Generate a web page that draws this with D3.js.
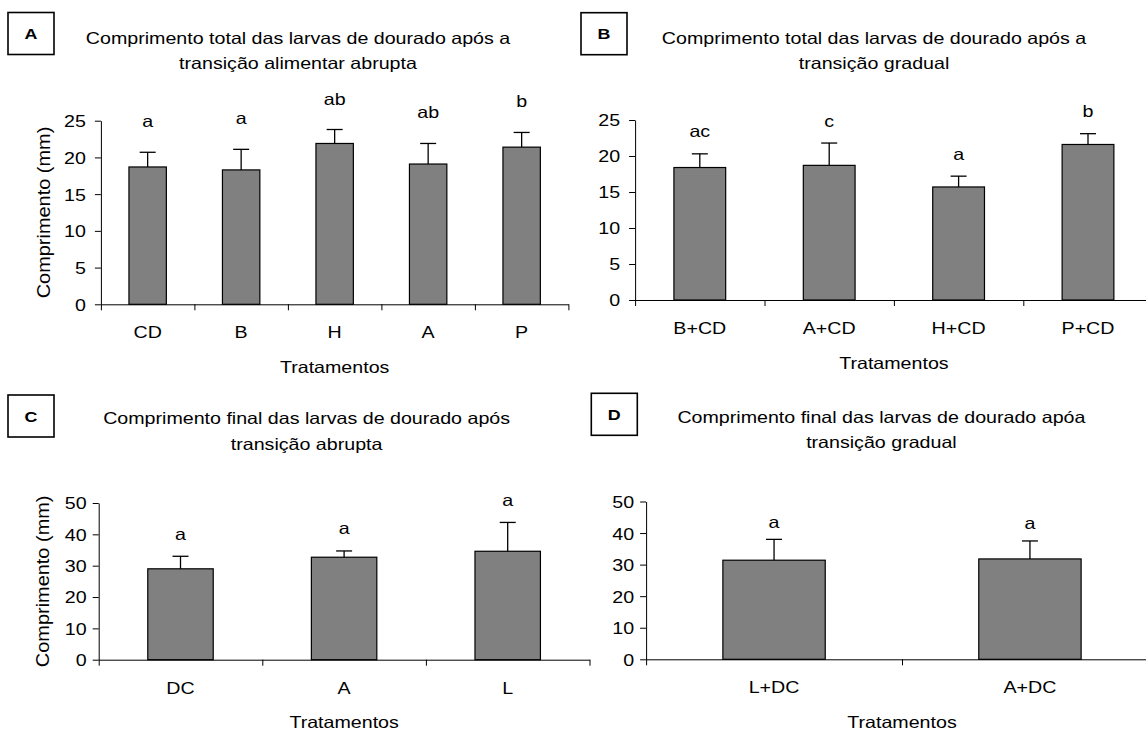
<!DOCTYPE html>
<html><head><meta charset="utf-8">
<script src="https://cdn.jsdelivr.net/npm/d3@7"></script>
<style>
body{margin:0;background:#fff}
svg{display:block}
text{font-family:"Liberation Sans",Arial,sans-serif;fill:#000}
</style>
</head><body>
<svg id="c" width="1146" height="734"></svg>
<script>
// ---- data ----
const catsA = ["CD", "B", "H", "A", "P"];
const meansA = [18.7, 18.3, 21.9, 19.1, 21.4];
const errA = [2.0, 2.8, 1.9, 2.8, 2.0];
const lettersA = ["a", "a", "ab", "ab", "b"];

const catsB = ["B+CD", "A+CD", "H+CD", "P+CD"];
const meansB = [18.4, 18.7, 15.7, 21.6];
const errB = [1.9, 3.1, 1.5, 1.5];
const lettersB = ["ac", "c", "a", "b"];

const catsC = ["DC", "A", "L"];
const meansC = [29.0, 32.7, 34.6];
const errC = [4.0, 2.0, 9.2];
const lettersC = ["a", "a", "a"];

const catsD = ["L+DC", "A+DC"];
const meansD = [31.4, 31.8];
const errD = [6.6, 5.7];
const lettersD = ["a", "a"];

const ticksAB = [0, 5, 10, 15, 20, 25];
const ticksCD = [0, 10, 20, 30, 40, 50];

const titlesA = ["Comprimento total das larvas de dourado após a", "transição alimentar abrupta"];
const titlesB = ["Comprimento total das larvas de dourado após a", "transição gradual"];
const titlesC = ["Comprimento final das larvas de dourado após", "transição abrupta"];
const titlesD = ["Comprimento final das larvas de dourado apóa", "transição gradual"];
const yLabel = "Comprimento (mm)";
const xLabel = "Tratamentos";

// ---- drawing ----
const SX = 1.19, FS = 16.5;
const svg = d3.select("#c");

function label(g, x, y, str, o = {}) {
  const size = o.size || FS, anchor = o.anchor || "middle", weight = o.weight || "normal", rot = o.rotate || 0;
  const sx = o.sx || SX;
  return g.append("text")
    .attr("transform", `translate(${x},${y}) rotate(${rot}) scale(${sx},1)`)
    .attr("text-anchor", anchor)
    .attr("font-size", size)
    .attr("font-weight", weight)
    .text(str);
}

function panel(cfg) {
  const g = svg.append("g");
  const n = cfg.cats.length;
  const x = d3.scaleBand().domain(cfg.cats).range([cfg.x0, cfg.x1]).paddingInner(0.6).paddingOuter(0.3);
  const xb = d3.scaleLinear().domain([0, n]).range([cfg.x0, cfg.x1]);
  const y = d3.scaleLinear().domain([0, cfg.ticks[cfg.ticks.length - 1]]).range([cfg.yBot, cfg.yTop]);

  // bars
  g.selectAll("rect.bar").data(cfg.cats).join("rect")
    .attr("class", "bar")
    .attr("x", d => x(d))
    .attr("width", x.bandwidth())
    .attr("y", (d, i) => y(cfg.means[i]))
    .attr("height", (d, i) => y(0) - y(cfg.means[i]))
    .attr("fill", "#808080")
    .attr("stroke", "#000")
    .attr("stroke-width", 1.2);

  // error bars (upper)
  cfg.cats.forEach((c, i) => {
    const cx = x(c) + x.bandwidth() / 2;
    const top = y(cfg.means[i] + cfg.errs[i]);
    g.append("line").attr("x1", cx).attr("x2", cx).attr("y1", y(cfg.means[i])).attr("y2", top)
      .attr("stroke", "#000").attr("stroke-width", 1.3);
    g.append("line").attr("x1", cx - 8).attr("x2", cx + 8).attr("y1", top).attr("y2", top)
      .attr("stroke", "#000").attr("stroke-width", 1.3);
    label(g, cx, top - cfg.letterGap, cfg.letters[i]);
  });

  // y axis
  const ya = g.append("g").attr("transform", `translate(${cfg.x0},0)`)
    .call(d3.axisLeft(y).tickValues(cfg.ticks).tickSize(6).tickSizeOuter(0));
  ya.select(".domain").attr("stroke", "#000");
  ya.selectAll(".tick line").attr("stroke", "#000");
  ya.selectAll(".tick text")
    .attr("x", null).attr("dy", null)
    .attr("font-size", FS).attr("font-family", null)
    .attr("transform", `translate(${-cfg.tickPad},${0.36 * FS}) scale(${SX},1)`);

  // x axis (category boundaries)
  const xa = g.append("g").attr("transform", `translate(0,${cfg.yBot})`)
    .call(d3.axisBottom(xb).tickValues(d3.range(n + 1)).tickSize(6).tickSizeOuter(0).tickFormat(""));
  xa.select(".domain").attr("stroke", "#000");
  xa.selectAll(".tick line").attr("stroke", "#000");

  // category labels
  cfg.cats.forEach(c => label(g, x(c) + x.bandwidth() / 2, cfg.yBot + 34, c));
  // axis titles
  label(g, (cfg.x0 + cfg.x1) / 2, cfg.yBot + 68.5, xLabel);
  if (cfg.yLabelX) label(g, cfg.yLabelX, (cfg.yTop + cfg.yBot) / 2, yLabel, { rotate: -90, size: 17.5, sx: 1.14 });

  // chart title
  label(g, cfg.titleX, cfg.titleY, cfg.title[0]);
  label(g, cfg.titleX, cfg.titleY + 25.5, cfg.title[1]);

  // panel letter box
  g.append("rect").attr("x", cfg.box[0]).attr("y", cfg.box[1]).attr("width", 46).attr("height", 42)
    .attr("fill", "#fff").attr("stroke", "#000").attr("stroke-width", 1.6);
  label(g, cfg.box[0] + 23, cfg.box[1] + 26.5, cfg.boxLetter, { size: 15, weight: "bold" });
}

panel({ cats: catsA, means: meansA, errs: errA, letters: lettersA, ticks: ticksAB,
  x0: 100.9, x1: 568.4, yTop: 120.7, yBot: 304.3, tickPad: 15, letterGap: 25,
  title: titlesA, titleX: 298, titleY: 43.5, box: [8, 12.5], boxLetter: "A", yLabelX: 50 });
panel({ cats: catsB, means: meansB, errs: errB, letters: lettersB, ticks: ticksAB,
  x0: 635.1, x1: 1152.7, yTop: 120, yBot: 300, tickPad: 15, letterGap: 16.5,
  title: titlesB, titleX: 874, titleY: 43.5, box: [581, 12.7], boxLetter: "B" });
panel({ cats: catsC, means: meansC, errs: errC, letters: lettersC, ticks: ticksCD,
  x0: 98.7, x1: 589.5, yTop: 503, yBot: 659.7, tickPad: 12, letterGap: 16.5,
  title: titlesC, titleX: 306.6, titleY: 424, box: [8, 395], boxLetter: "C", yLabelX: 49 });
panel({ cats: catsD, means: meansD, errs: errD, letters: lettersD, ticks: ticksCD,
  x0: 646.1, x1: 1157.9, yTop: 501.5, yBot: 659.3, tickPad: 12, letterGap: 11.5,
  title: titlesD, titleX: 881.4, titleY: 422.5, box: [591.3, 393.3], boxLetter: "D" });
</script>
</body></html>
